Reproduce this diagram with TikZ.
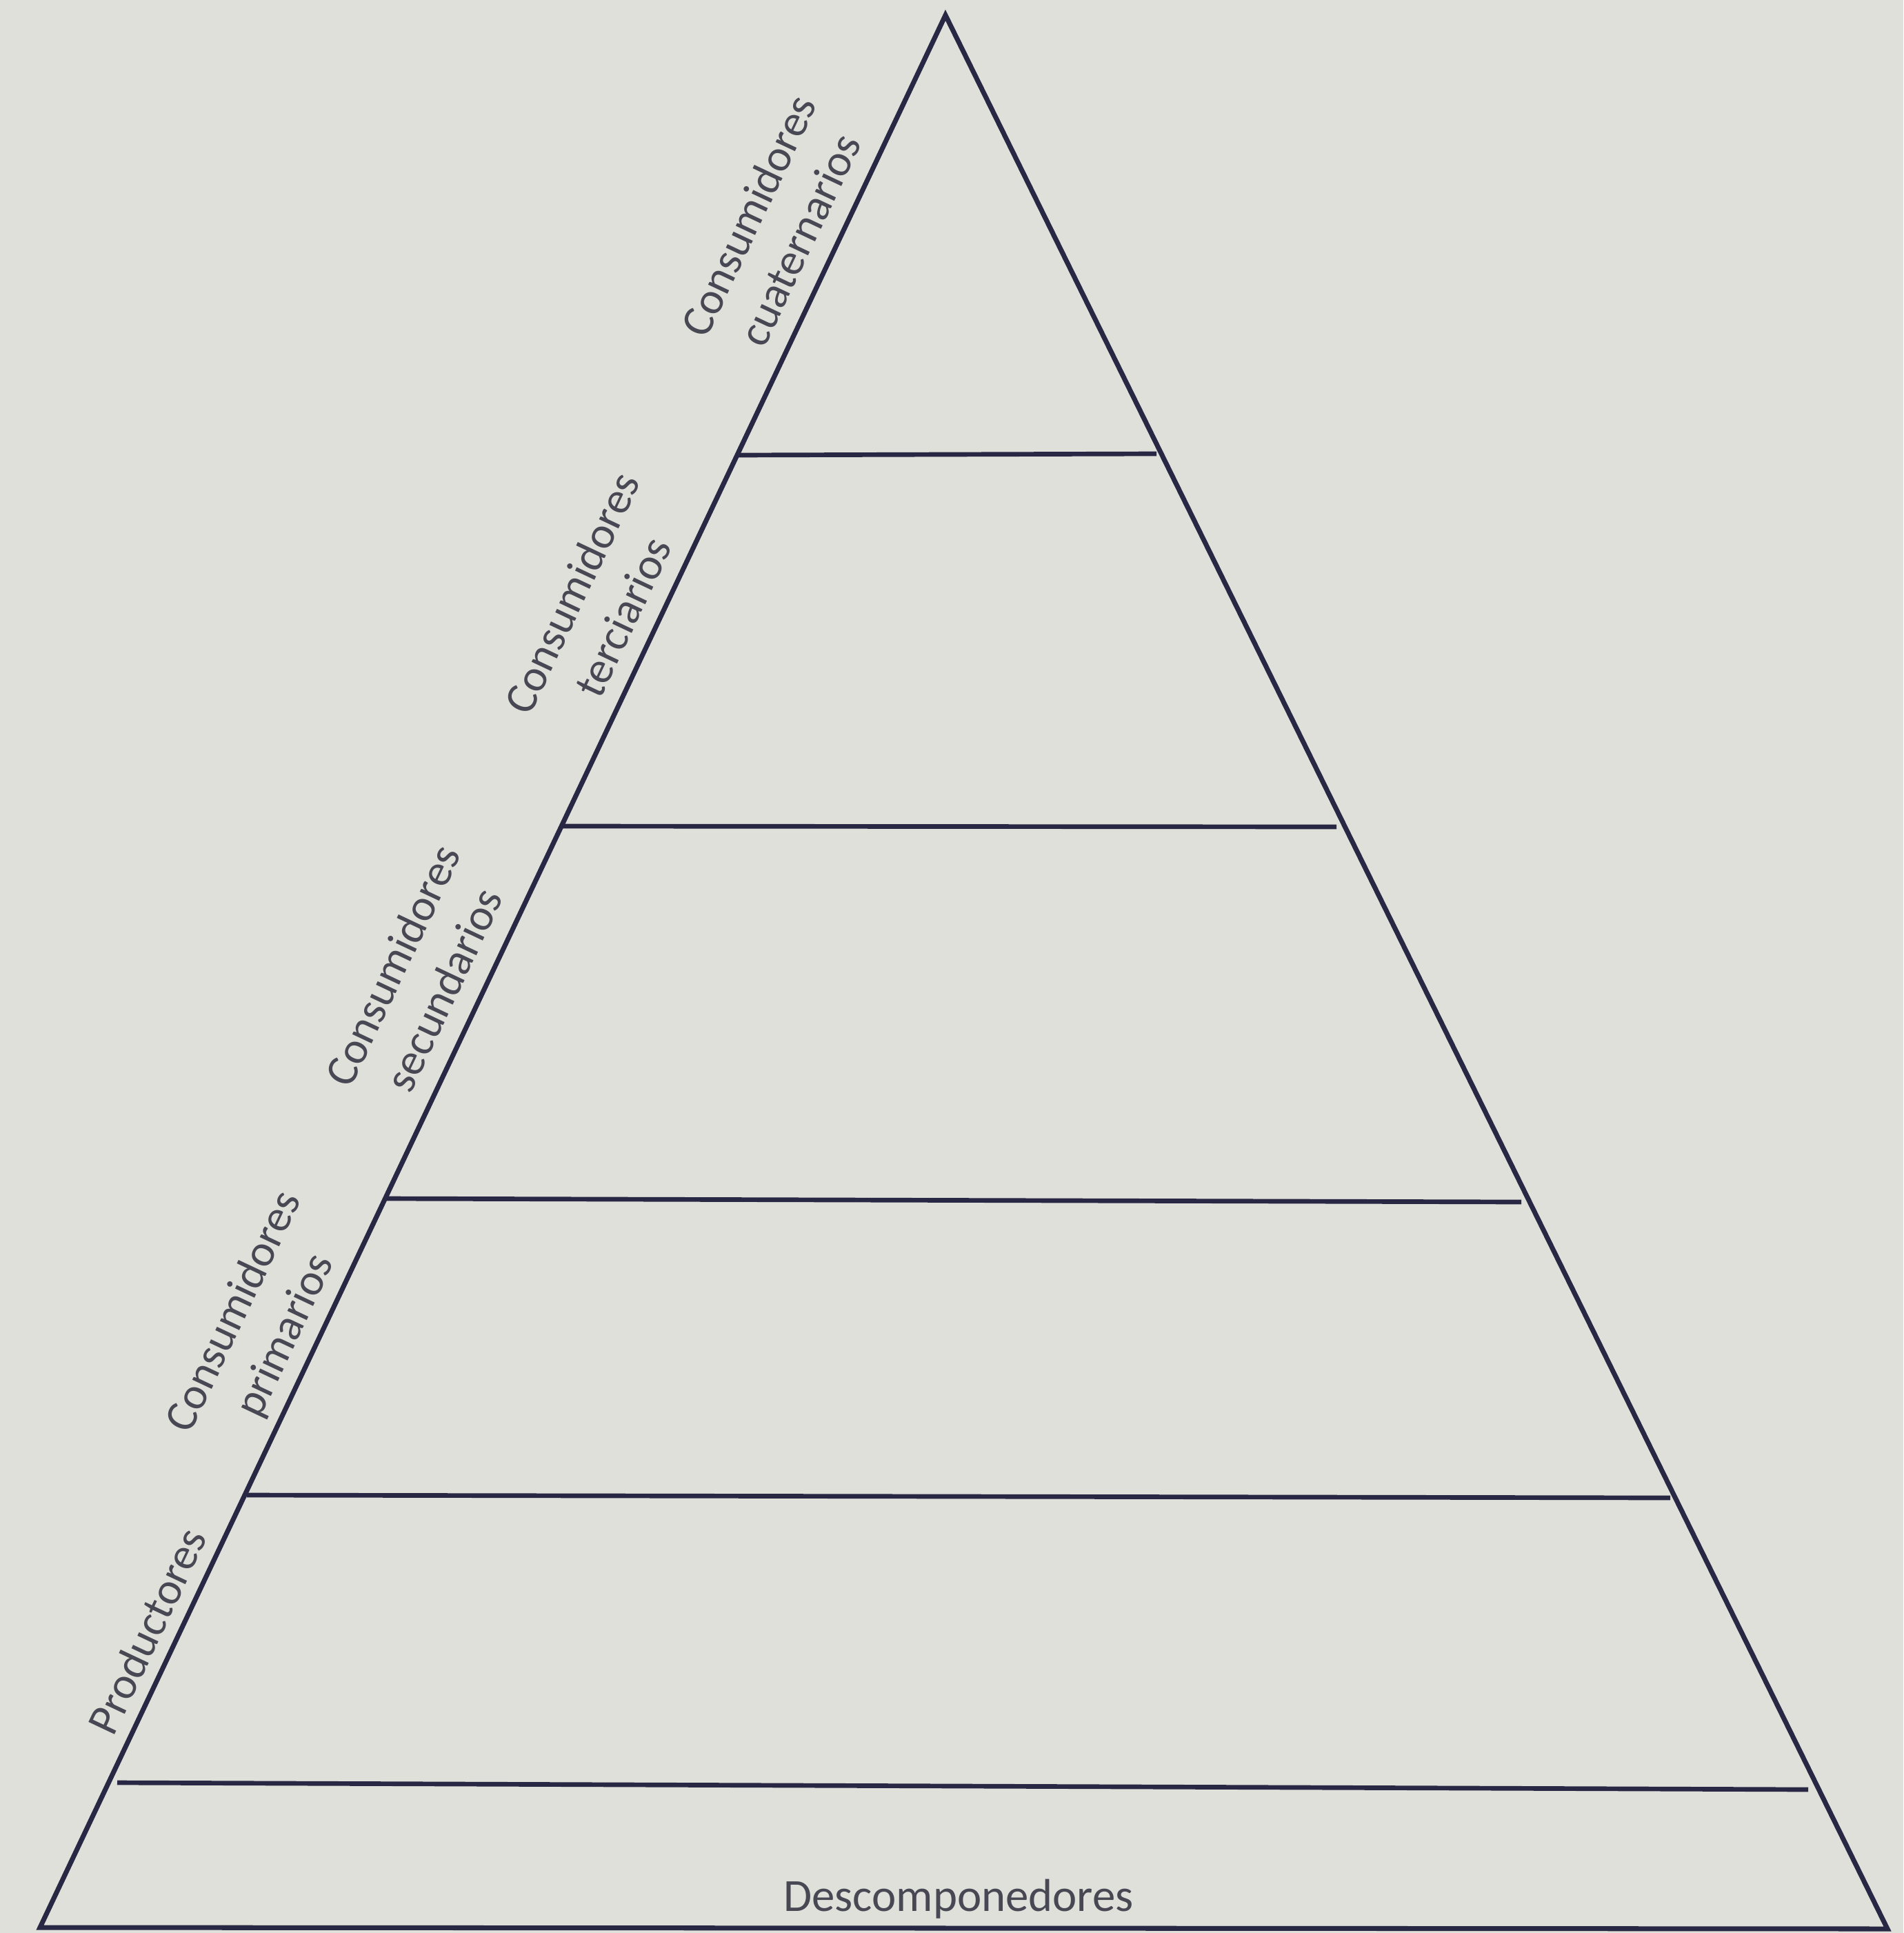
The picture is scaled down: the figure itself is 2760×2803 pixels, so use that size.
\documentclass[tikz,border=0pt]{standalone}
\usepackage{fontspec}
\setmainfont{Carlito}
\definecolor{bg}{RGB}{224,224,218}
\definecolor{ink}{RGB}{40,40,68}
\definecolor{txt}{RGB}{72,72,84}
\begin{document}
\begin{tikzpicture}[x=0.01cm,y=-0.01cm,
  edge/.style={draw=ink,line width=2pt,line join=miter},
  level/.style={draw=ink,line width=1.9pt},
  lbl/.style={text=txt,font=\fontsize{18.5pt}{23.3pt}\selectfont,align=center,rotate=64.7,inner sep=0pt},
  base/.style={text=txt,font=\fontsize{19pt}{23pt}\selectfont,inner sep=0pt}]
\fill[bg] (0,0) rectangle (2760,2803);
\useasboundingbox (0,0) rectangle (2760,2803);
% pyramid corners
\coordinate (apex) at (1371,22);
\coordinate (bl) at (58,2795);
\coordinate (br) at (2737,2797);
\draw[edge] (apex) -- (br) -- (bl) -- cycle;
% level lines
\coordinate (l1a) at (1069,660);  \coordinate (l1b) at (1677,658);
\coordinate (l2a) at (813,1198);  \coordinate (l2b) at (1938,1199);
\coordinate (l3a) at (558,1738);  \coordinate (l3b) at (2206,1743);
\coordinate (l4a) at (358,2168);  \coordinate (l4b) at (2422,2172);
\coordinate (l5a) at (170,2585);  \coordinate (l5b) at (2622,2595);
\draw[level] (l1a) -- (l1b);
\draw[level] (l2a) -- (l2b);
\draw[level] (l3a) -- (l3b);
\draw[level] (l4a) -- (l4b);
\draw[level] (l5a) -- (l5b);
% labels
\node[lbl] (cuat) at (1122,330) {Consumidores\\cuaternarios};
\node[lbl] (terc) at (866,877) {Consumidores\\terciarios};
\node[lbl] (secu) at (606,1417) {Consumidores\\secundarios};
\node[lbl] (prim) at (378,1920) {Consumidores\\primarios};
\node[lbl] (prod) at (213,2365) {Productores};
\node[base,anchor=base] (desc) at (1390,2771) {Descomponedores};
\end{tikzpicture}
\end{document}
